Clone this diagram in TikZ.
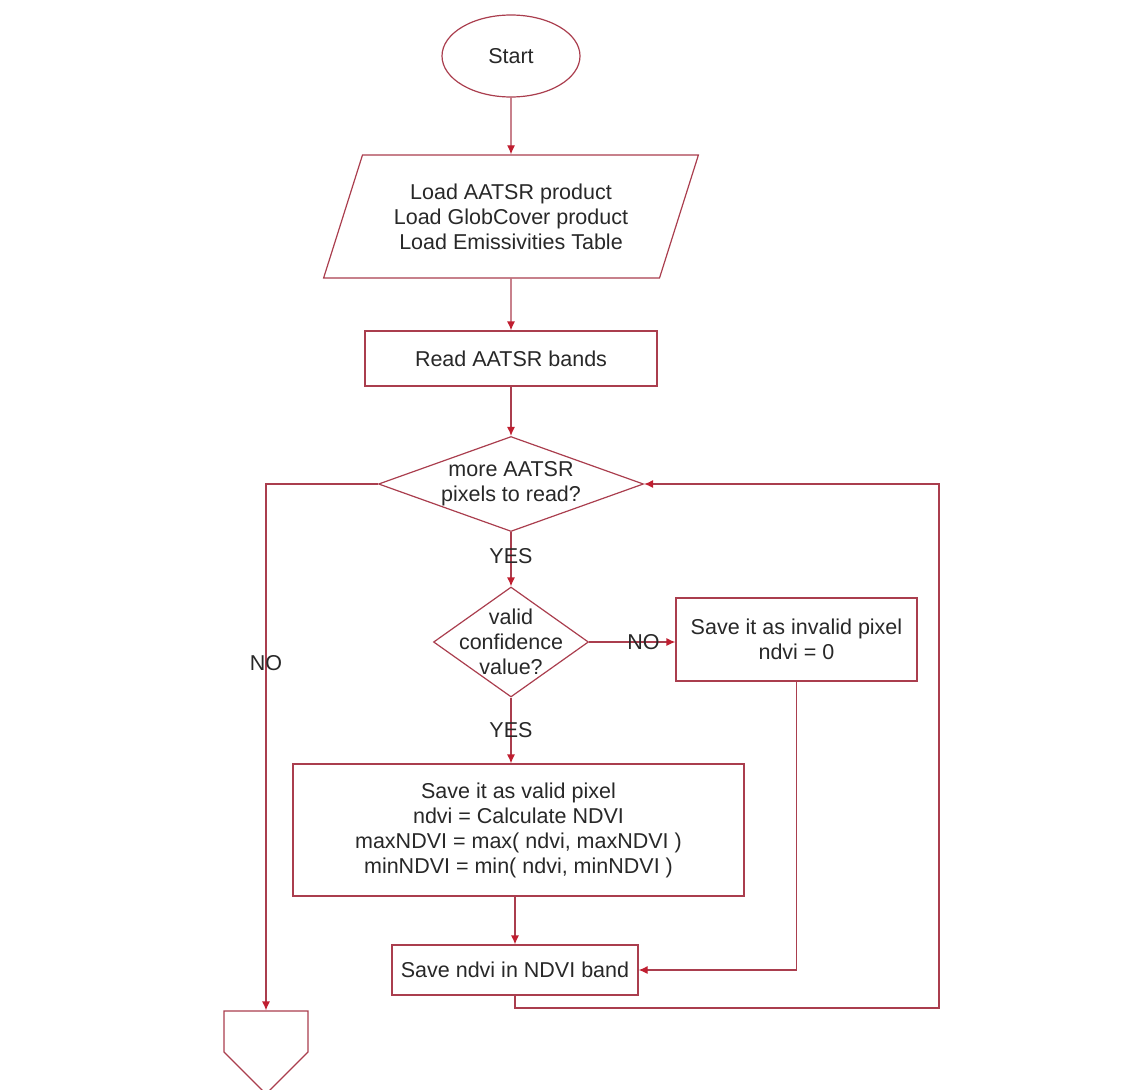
\documentclass[tikz,border=0pt]{standalone}
\usepackage{fontspec}
\setmainfont{Liberation Sans}
\usetikzlibrary{shapes, shapes.geometric, shapes.symbols, arrows.meta, calc, positioning}

\definecolor{flowline}{RGB}{170,62,78}
\definecolor{flowtip}{RGB}{192,30,48}
\definecolor{flowtext}{RGB}{40,40,40}

\begin{document}
\begin{tikzpicture}[x=1pt, y=-1pt,
  >={Latex[length=9pt, width=8pt, color=flowtip]},
  every node/.style={font=\fontsize{21.5}{25}\selectfont, text=flowtext},
  box/.style={draw=flowline, line width=1.2pt, fill=white, align=center, inner sep=0pt},
  flow/.style={->, draw=flowline, line width=1.2pt}]
  \useasboundingbox (0,0) rectangle (1145,1089);

  \node[box, ellipse, minimum width=138pt, minimum height=82pt] (start) at (511,56) {Start};
  \node[box, trapezium, trapezium left angle=65, trapezium right angle=115, trapezium stretches=true,
        minimum width=376pt, minimum height=123pt] (load) at (511,216.5)
        {Load AATSR product\\Load GlobCover product\\Load Emissivities Table};
  \node[box, minimum width=292pt, minimum height=55pt] (read) at (511,358.5) {Read AATSR bands};
  \node[box, diamond, minimum width=265pt, minimum height=95pt,
        label={[align=center]center:more AATSR\\pixels to read?}] (more) at (511,484) {};
  \node[box, diamond, minimum width=155pt, minimum height=110pt,
        label={[align=center]center:valid\\confidence\\value?}] (valid) at (511,642) {};
  \node[box, minimum width=241pt, minimum height=83pt] (invalid) at (796.5,639.5)
        {Save it as invalid pixel\\ndvi = 0};
  \node[box, minimum width=451pt, minimum height=132pt] (calc) at (518.5,830)
        {Save it as valid pixel\\ndvi = Calculate NDVI\\maxNDVI = max( ndvi, maxNDVI )\\minNDVI = min( ndvi, minNDVI )};
  \node[box, minimum width=246pt, minimum height=50pt] (save) at (515,970) {Save ndvi in NDVI band};
  \node[box, signal, signal to=south, signal pointer angle=90, minimum width=84pt, minimum height=41pt] (off) at (266,1031.5) {};
  \coordinate (loop) at (939,1008);

  \draw[flow] (start) -- (load);
  \draw[flow] (load) -- (read);
  \draw[flow] (read) -- (more);
  \draw[flow] (more) -- node[pos=0.45] {YES} (valid);
  \draw[flow] (valid.east) -- node[pos=0.63] {NO} (valid.east -| invalid.west);
  \draw[flow] (valid.south) -- node[pos=0.5] {YES} (valid.south |- calc.north);
  \draw[flow] (calc.south -| save.north) -- (save.north);
  \draw[flow] (invalid.south) |- (save.east);
  \draw[flow] (save.south) |- (loop) |- (more.east);
  \draw[flow] (more.west) -| node[pos=0.67] {NO} (off.north);
\end{tikzpicture}
\end{document}
